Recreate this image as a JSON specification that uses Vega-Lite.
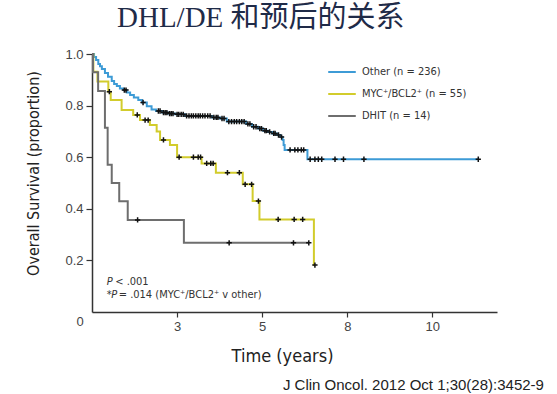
{
  "$schema": "https://vega.github.io/schema/vega-lite/v6.json",
  "width": 405,
  "height": 258,
  "autosize": {"type": "none"},
  "padding": {"left": 92, "top": 54, "right": 60, "bottom": 82},
  "background": "white",
  "config": {"view": {"stroke": null}, "font": "Liberation Sans"},
  "title": {"text": "DHL/DE 和预后的关系", "anchor": "start", "frame": "group", "dx": 25, "dy": 22, "offset": 14, "baseline": "alphabetic", "font": "Liberation Serif, Noto Sans CJK SC", "fontSize": 29, "fontWeight": "normal", "color": "#1f2b48"},
  "datasets": {
    "km": [
      {"g": "Other", "t": 0, "s": 1.0, "c": 0},
      {"g": "Other", "t": 0.06, "s": 0.988, "c": 0},
      {"g": "Other", "t": 0.12, "s": 0.977, "c": 0},
      {"g": "Other", "t": 0.185, "s": 0.961, "c": 0},
      {"g": "Other", "t": 0.235, "s": 0.953, "c": 0},
      {"g": "Other", "t": 0.29, "s": 0.942, "c": 0},
      {"g": "Other", "t": 0.38, "s": 0.926, "c": 0},
      {"g": "Other", "t": 0.47, "s": 0.912, "c": 0},
      {"g": "Other", "t": 0.58, "s": 0.895, "c": 0},
      {"g": "Other", "t": 0.65, "s": 0.884, "c": 0},
      {"g": "Other", "t": 0.73, "s": 0.876, "c": 0},
      {"g": "Other", "t": 0.82, "s": 0.866, "c": 0},
      {"g": "Other", "t": 0.92, "s": 0.860, "c": 0},
      {"g": "Other", "t": 0.95, "s": 0.860, "c": 1},
      {"g": "Other", "t": 1.00, "s": 0.860, "c": 1},
      {"g": "Other", "t": 1.02, "s": 0.851, "c": 0},
      {"g": "Other", "t": 1.12, "s": 0.841, "c": 0},
      {"g": "Other", "t": 1.23, "s": 0.831, "c": 0},
      {"g": "Other", "t": 1.36, "s": 0.822, "c": 0},
      {"g": "Other", "t": 1.47, "s": 0.812, "c": 0},
      {"g": "Other", "t": 1.50, "s": 0.812, "c": 1},
      {"g": "Other", "t": 1.61, "s": 0.797, "c": 0},
      {"g": "Other", "t": 1.75, "s": 0.785, "c": 0},
      {"g": "Other", "t": 1.88, "s": 0.779, "c": 0},
      {"g": "Other", "t": 1.95, "s": 0.779, "c": 1},
      {"g": "Other", "t": 2.00, "s": 0.779, "c": 1},
      {"g": "Other", "t": 2.06, "s": 0.773, "c": 0},
      {"g": "Other", "t": 2.10, "s": 0.773, "c": 1},
      {"g": "Other", "t": 2.15, "s": 0.773, "c": 1},
      {"g": "Other", "t": 2.20, "s": 0.773, "c": 1},
      {"g": "Other", "t": 2.23, "s": 0.769, "c": 0},
      {"g": "Other", "t": 2.28, "s": 0.769, "c": 1},
      {"g": "Other", "t": 2.33, "s": 0.769, "c": 1},
      {"g": "Other", "t": 2.38, "s": 0.769, "c": 1},
      {"g": "Other", "t": 2.44, "s": 0.766, "c": 0},
      {"g": "Other", "t": 2.50, "s": 0.766, "c": 1},
      {"g": "Other", "t": 2.55, "s": 0.766, "c": 1},
      {"g": "Other", "t": 2.62, "s": 0.766, "c": 1},
      {"g": "Other", "t": 2.68, "s": 0.766, "c": 1},
      {"g": "Other", "t": 2.73, "s": 0.760, "c": 0},
      {"g": "Other", "t": 2.78, "s": 0.760, "c": 1},
      {"g": "Other", "t": 2.85, "s": 0.760, "c": 1},
      {"g": "Other", "t": 2.92, "s": 0.760, "c": 1},
      {"g": "Other", "t": 2.98, "s": 0.760, "c": 1},
      {"g": "Other", "t": 3.05, "s": 0.760, "c": 1},
      {"g": "Other", "t": 3.12, "s": 0.760, "c": 1},
      {"g": "Other", "t": 3.18, "s": 0.760, "c": 1},
      {"g": "Other", "t": 3.25, "s": 0.760, "c": 1},
      {"g": "Other", "t": 3.32, "s": 0.760, "c": 1},
      {"g": "Other", "t": 3.40, "s": 0.760, "c": 1},
      {"g": "Other", "t": 3.47, "s": 0.760, "c": 1},
      {"g": "Other", "t": 3.53, "s": 0.754, "c": 0},
      {"g": "Other", "t": 3.58, "s": 0.754, "c": 1},
      {"g": "Other", "t": 3.65, "s": 0.754, "c": 1},
      {"g": "Other", "t": 3.70, "s": 0.754, "c": 1},
      {"g": "Other", "t": 3.76, "s": 0.750, "c": 0},
      {"g": "Other", "t": 3.82, "s": 0.750, "c": 1},
      {"g": "Other", "t": 3.88, "s": 0.750, "c": 1},
      {"g": "Other", "t": 3.96, "s": 0.738, "c": 0},
      {"g": "Other", "t": 4.02, "s": 0.738, "c": 1},
      {"g": "Other", "t": 4.10, "s": 0.738, "c": 1},
      {"g": "Other", "t": 4.18, "s": 0.738, "c": 1},
      {"g": "Other", "t": 4.25, "s": 0.738, "c": 1},
      {"g": "Other", "t": 4.33, "s": 0.738, "c": 1},
      {"g": "Other", "t": 4.40, "s": 0.738, "c": 1},
      {"g": "Other", "t": 4.47, "s": 0.738, "c": 1},
      {"g": "Other", "t": 4.53, "s": 0.729, "c": 0},
      {"g": "Other", "t": 4.58, "s": 0.729, "c": 1},
      {"g": "Other", "t": 4.64, "s": 0.729, "c": 1},
      {"g": "Other", "t": 4.70, "s": 0.718, "c": 0},
      {"g": "Other", "t": 4.75, "s": 0.718, "c": 1},
      {"g": "Other", "t": 4.82, "s": 0.718, "c": 1},
      {"g": "Other", "t": 4.88, "s": 0.711, "c": 0},
      {"g": "Other", "t": 4.93, "s": 0.711, "c": 1},
      {"g": "Other", "t": 4.98, "s": 0.711, "c": 1},
      {"g": "Other", "t": 5.03, "s": 0.703, "c": 0},
      {"g": "Other", "t": 5.08, "s": 0.703, "c": 1},
      {"g": "Other", "t": 5.12, "s": 0.703, "c": 1},
      {"g": "Other", "t": 5.17, "s": 0.698, "c": 0},
      {"g": "Other", "t": 5.22, "s": 0.698, "c": 1},
      {"g": "Other", "t": 5.29, "s": 0.692, "c": 0},
      {"g": "Other", "t": 5.34, "s": 0.692, "c": 1},
      {"g": "Other", "t": 5.38, "s": 0.692, "c": 1},
      {"g": "Other", "t": 5.44, "s": 0.686, "c": 0},
      {"g": "Other", "t": 5.48, "s": 0.686, "c": 1},
      {"g": "Other", "t": 5.54, "s": 0.678, "c": 0},
      {"g": "Other", "t": 5.57, "s": 0.678, "c": 1},
      {"g": "Other", "t": 5.60, "s": 0.667, "c": 0},
      {"g": "Other", "t": 5.63, "s": 0.647, "c": 0},
      {"g": "Other", "t": 5.66, "s": 0.628, "c": 0},
      {"g": "Other", "t": 5.82, "s": 0.628, "c": 1},
      {"g": "Other", "t": 5.96, "s": 0.628, "c": 1},
      {"g": "Other", "t": 6.05, "s": 0.628, "c": 1},
      {"g": "Other", "t": 6.15, "s": 0.628, "c": 1},
      {"g": "Other", "t": 6.22, "s": 0.628, "c": 1},
      {"g": "Other", "t": 6.33, "s": 0.592, "c": 0},
      {"g": "Other", "t": 6.41, "s": 0.592, "c": 1},
      {"g": "Other", "t": 6.55, "s": 0.592, "c": 1},
      {"g": "Other", "t": 6.65, "s": 0.592, "c": 1},
      {"g": "Other", "t": 6.75, "s": 0.592, "c": 1},
      {"g": "Other", "t": 7.14, "s": 0.592, "c": 1},
      {"g": "Other", "t": 7.39, "s": 0.592, "c": 1},
      {"g": "Other", "t": 7.99, "s": 0.592, "c": 1},
      {"g": "Other", "t": 11.35, "s": 0.592, "c": 1},

      {"g": "MYC", "t": 0, "s": 1.0, "c": 0},
      {"g": "MYC", "t": 0.04, "s": 0.931, "c": 0},
      {"g": "MYC", "t": 0.16, "s": 0.893, "c": 0},
      {"g": "MYC", "t": 0.48, "s": 0.854, "c": 0},
      {"g": "MYC", "t": 0.51, "s": 0.854, "c": 1},
      {"g": "MYC", "t": 0.55, "s": 0.822, "c": 0},
      {"g": "MYC", "t": 0.87, "s": 0.783, "c": 0},
      {"g": "MYC", "t": 1.21, "s": 0.764, "c": 0},
      {"g": "MYC", "t": 1.33, "s": 0.764, "c": 1},
      {"g": "MYC", "t": 1.41, "s": 0.744, "c": 0},
      {"g": "MYC", "t": 1.56, "s": 0.744, "c": 1},
      {"g": "MYC", "t": 1.65, "s": 0.744, "c": 1},
      {"g": "MYC", "t": 1.70, "s": 0.725, "c": 0},
      {"g": "MYC", "t": 1.90, "s": 0.700, "c": 0},
      {"g": "MYC", "t": 2.00, "s": 0.667, "c": 0},
      {"g": "MYC", "t": 2.10, "s": 0.667, "c": 1},
      {"g": "MYC", "t": 2.29, "s": 0.647, "c": 0},
      {"g": "MYC", "t": 2.50, "s": 0.600, "c": 0},
      {"g": "MYC", "t": 2.56, "s": 0.600, "c": 1},
      {"g": "MYC", "t": 2.98, "s": 0.600, "c": 1},
      {"g": "MYC", "t": 3.12, "s": 0.600, "c": 1},
      {"g": "MYC", "t": 3.19, "s": 0.600, "c": 1},
      {"g": "MYC", "t": 3.22, "s": 0.576, "c": 0},
      {"g": "MYC", "t": 3.37, "s": 0.576, "c": 1},
      {"g": "MYC", "t": 3.49, "s": 0.576, "c": 1},
      {"g": "MYC", "t": 3.56, "s": 0.576, "c": 1},
      {"g": "MYC", "t": 3.64, "s": 0.540, "c": 0},
      {"g": "MYC", "t": 3.98, "s": 0.540, "c": 1},
      {"g": "MYC", "t": 4.33, "s": 0.540, "c": 1},
      {"g": "MYC", "t": 4.43, "s": 0.495, "c": 0},
      {"g": "MYC", "t": 4.50, "s": 0.495, "c": 1},
      {"g": "MYC", "t": 4.69, "s": 0.495, "c": 1},
      {"g": "MYC", "t": 4.72, "s": 0.430, "c": 0},
      {"g": "MYC", "t": 4.89, "s": 0.430, "c": 1},
      {"g": "MYC", "t": 4.92, "s": 0.359, "c": 0},
      {"g": "MYC", "t": 5.47, "s": 0.359, "c": 1},
      {"g": "MYC", "t": 5.94, "s": 0.359, "c": 1},
      {"g": "MYC", "t": 6.19, "s": 0.359, "c": 1},
      {"g": "MYC", "t": 6.52, "s": 0.182, "c": 0},
      {"g": "MYC", "t": 6.55, "s": 0.182, "c": 1},

      {"g": "DHIT", "t": 0, "s": 1.0, "c": 0},
      {"g": "DHIT", "t": 0.03, "s": 0.929, "c": 0},
      {"g": "DHIT", "t": 0.18, "s": 0.857, "c": 0},
      {"g": "DHIT", "t": 0.38, "s": 0.714, "c": 0},
      {"g": "DHIT", "t": 0.46, "s": 0.571, "c": 0},
      {"g": "DHIT", "t": 0.58, "s": 0.500, "c": 0},
      {"g": "DHIT", "t": 0.80, "s": 0.429, "c": 0},
      {"g": "DHIT", "t": 1.05, "s": 0.357, "c": 0},
      {"g": "DHIT", "t": 1.34, "s": 0.357, "c": 1},
      {"g": "DHIT", "t": 2.70, "s": 0.268, "c": 0},
      {"g": "DHIT", "t": 4.03, "s": 0.268, "c": 1},
      {"g": "DHIT", "t": 5.92, "s": 0.268, "c": 1},
      {"g": "DHIT", "t": 6.37, "s": 0.268, "c": 1}
    ]
  },
  "layer": [
    {
      "data": {"name": "km"},
      "mark": {"type": "line", "interpolate": "step-after", "strokeWidth": 2},
      "encoding": {
        "x": {
          "field": "t", "type": "quantitative",
          "scale": {"domain": [0, 11.9], "nice": false},
          "axis": {
            "values": [0, 2.5, 5, 7.5, 10], "format": ".0f",
            "labelExpr": "datum.value == 2.5 ? '3' : datum.value == 7.5 ? '8' : datum.label",
            "grid": false, "domainColor": "#333", "domainWidth": 1.5,
            "tickColor": "#333", "tickWidth": 1.2,
            "tickSize": {"condition": {"test": "datum.value == 0", "value": 0}, "value": 5},
            "labelOffset": {"condition": {"test": "datum.value == 0", "value": -16}, "value": 0},
            "labelPadding": 3, "labelFont": "Liberation Sans", "labelFontSize": 13, "labelColor": "#444",
            "title": "Time (years)", "titleFont": "DejaVu Sans Condensed, Roboto", "titleFontSize": 18,
            "titleFontWeight": "normal", "titleColor": "#222",
            "titleX": 190, "titleY": 49, "titleBaseline": "alphabetic", "titleAlign": "center"
          }
        },
        "y": {
          "field": "s", "type": "quantitative",
          "scale": {"domain": [0, 1], "nice": false},
          "axis": {
            "values": [0.2, 0.4, 0.6, 0.8, 1.0], "format": ".1f",
            "grid": false, "domainColor": "#333", "domainWidth": 1.5,
            "tickColor": "#333", "tickWidth": 1.2, "tickSize": 6,
            "labelPadding": 3, "labelFont": "Liberation Sans", "labelFontSize": 13, "labelColor": "#444",
            "title": "Overall Survival (proportion)", "titleFont": "DejaVu Sans Condensed, Roboto", "titleFontSize": 16,
            "titleFontWeight": "normal", "titleColor": "#222",
            "titleX": -54, "titleY": 119, "titleBaseline": "alphabetic", "titleAlign": "center", "titleAngle": -90
          }
        },
        "color": {
          "field": "g", "type": "nominal",
          "scale": {"domain": ["Other", "MYC", "DHIT"], "range": ["#3d9bd6", "#d2cc2c", "#6e6e6e"]},
          "legend": {
            "orient": "none", "legendX": 235, "legendY": 3, "title": null,
            "symbolType": "stroke", "symbolSize": 760, "symbolStrokeWidth": 2,
            "labelFont": "DejaVu Sans Condensed, Roboto", "labelFontSize": 11, "labelColor": "#333",
            "rowPadding": 2, "labelOffset": 5, "padding": 0,
            "labelExpr": "datum.label == 'Other' ? 'Other (n = 236)' : datum.label == 'MYC' ? 'MYC⁺/BCL2⁺ (n = 55)' : 'DHIT (n = 14)'"
          }
        }
      }
    },
    {
      "data": {"name": "km"},
      "transform": [{"filter": "datum.c == 1"}],
      "mark": {"type": "point", "shape": "M-1,0H1M0,-1V1", "size": 28, "strokeWidth": 1.5, "filled": false, "color": "#111", "opacity": 1},
      "encoding": {
        "x": {"field": "t", "type": "quantitative"},
        "y": {"field": "s", "type": "quantitative"}
      }
    },
    {
      "data": {"values": [{"t": 0.432, "s": 0.1047, "label": "P"}]},
      "mark": {"type": "text", "align": "left", "baseline": "alphabetic", "font": "DejaVu Sans Condensed, Roboto", "fontSize": 11, "fontStyle": "italic", "color": "#333", "dx": 0},
      "encoding": {"x": {"field": "t", "type": "quantitative"}, "y": {"field": "s", "type": "quantitative"}, "text": {"field": "label"}}
    },
    {
      "data": {"values": [{"t": 0.432, "s": 0.1047, "label": "< .001"}]},
      "mark": {"type": "text", "align": "left", "baseline": "alphabetic", "font": "DejaVu Sans Condensed, Roboto", "fontSize": 11, "color": "#333", "dx": 8.5},
      "encoding": {"x": {"field": "t", "type": "quantitative"}, "y": {"field": "s", "type": "quantitative"}, "text": {"field": "label"}}
    },
    {
      "data": {"values": [{"t": 0.432, "s": 0.0543, "label": "*"}]},
      "mark": {"type": "text", "align": "left", "baseline": "alphabetic", "font": "DejaVu Sans Condensed, Roboto", "fontSize": 11, "color": "#333", "dx": 0},
      "encoding": {"x": {"field": "t", "type": "quantitative"}, "y": {"field": "s", "type": "quantitative"}, "text": {"field": "label"}}
    },
    {
      "data": {"values": [{"t": 0.432, "s": 0.0543, "label": "P"}]},
      "mark": {"type": "text", "align": "left", "baseline": "alphabetic", "font": "DejaVu Sans Condensed, Roboto", "fontSize": 11, "fontStyle": "italic", "color": "#333", "dx": 4.5},
      "encoding": {"x": {"field": "t", "type": "quantitative"}, "y": {"field": "s", "type": "quantitative"}, "text": {"field": "label"}}
    },
    {
      "data": {"values": [{"t": 0.432, "s": 0.0543, "label": "= .014 (MYC⁺/BCL2⁺ v other)"}]},
      "mark": {"type": "text", "align": "left", "baseline": "alphabetic", "font": "DejaVu Sans Condensed, Roboto", "fontSize": 11, "color": "#333", "dx": 12},
      "encoding": {"x": {"field": "t", "type": "quantitative"}, "y": {"field": "s", "type": "quantitative"}, "text": {"field": "label"}}
    },
    {
      "data": {"values": [{"t": 5.61, "s": -0.302, "label": "J Clin Oncol. 2012 Oct 1;30(28):3452-9"}]},
      "mark": {"type": "text", "align": "left", "baseline": "alphabetic", "font": "Liberation Sans", "fontSize": 15, "color": "#222"},
      "encoding": {"x": {"field": "t", "type": "quantitative"}, "y": {"field": "s", "type": "quantitative"}, "text": {"field": "label"}}
    }
  ]
}
